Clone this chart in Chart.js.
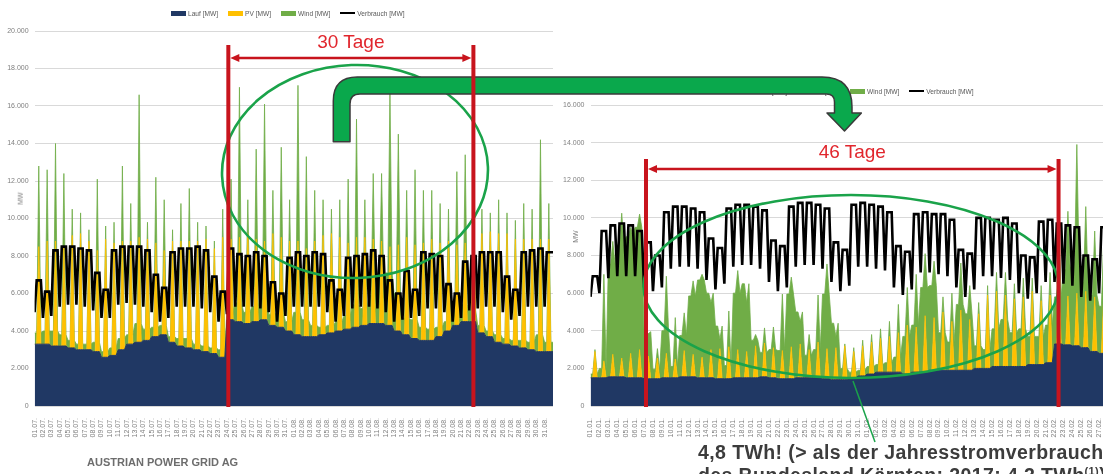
<!DOCTYPE html>
<html>
<head>
<meta charset="utf-8">
<script src="https://cdn.jsdelivr.net/npm/chart.js@4/dist/chart.umd.min.js"></script>
<style>
html, body { margin: 0; padding: 0; background: #fff; }
body { width: 1103px; height: 474px; overflow: hidden; position: relative; font-family: "Liberation Sans", Arial, sans-serif; }
canvas { position: absolute; top: 0; }
#c1 { left: 0; }
#c2 { left: 556px; }
.legend { position: absolute; display: flex; align-items: center; height: 8px; font-size: 6.6px; color: #595959; white-space: nowrap; }
.legend .item { display: flex; align-items: center; margin-right: 10px; }
.legend i { display: block; width: 15px; margin-right: 2px; }
.mw { position: absolute; font-size: 7px; color: #808080; transform: rotate(-90deg); transform-origin: center; }
#over { position: absolute; left: 0; top: 0; }
#apg { position: absolute; left: 87px; top: 456px; font: bold 11px/13px "Liberation Sans", Arial, sans-serif; color: #6d6d6d; white-space: nowrap; }
#note { position: absolute; left: 698px; top: 441px; font: bold 19.5px/23px "Liberation Sans", Arial, sans-serif; letter-spacing: 0.4px; color: #3c3c3c; white-space: nowrap; }
#note sup { font-size: 11px; line-height: 0; }
</style>
</head>
<body>
<canvas id="c1" width="567" height="446"></canvas>
<canvas id="c2" width="575" height="446"></canvas>
<div class="legend" id="lg1" style="left:171px;top:9px"></div>
<div class="legend" id="lg2" style="left:740px;top:87px"></div>
<div class="mw" style="left:14px;top:195px">MW</div>
<div class="mw" style="left:569px;top:233px">MW</div>
<svg id="over" width="1103" height="474"></svg>
<div id="apg">AUSTRIAN POWER GRID AG</div>
<div id="note">4,8 TWh! (&gt; als der Jahresstromverbrauch<br>des Bundesland Kärnten; 2017: 4,2 TWh<sup>(1)</sup>)</div>

<script>
// series names / colours
const seriesNames = ['Lauf [MW]', 'PV [MW]', 'Wind [MW]', 'Verbrauch [MW]'];
const seriesColors = ['#203864', '#ffc000', '#70ad47', '#000000'];

// ---- Sommer: 01.07. - 31.08. (one value per day) ----
const labelsSommer = ('01.07. 02.07. 03.07. 04.07. 05.07. 06.07. 07.07. 08.07. 09.07. 10.07. 11.07. 12.07. 13.07. 14.07. 15.07. 16.07. ' +
  '17.07. 18.07. 19.07. 20.07. 21.07. 22.07. 23.07. 24.07. 25.07. 26.07. 27.07. 28.07. 29.07. 30.07. 31.07. ' +
  '01.08. 02.08. 03.08. 04.08. 05.08. 06.08. 07.08. 08.08. 09.08. 10.08. 11.08. 12.08. 13.08. 14.08. 15.08. 16.08. ' +
  '17.08. 18.08. 19.08. 20.08. 21.08. 22.08. 23.08. 24.08. 25.08. 26.08. 27.08. 28.08. 29.08. 30.08. 31.08.').split(' ');
const laufSommer = [3300,3300,3200,3200,3100,3000,3000,2900,2600,2700,3000,3300,3400,3500,3700,3800,3400,3200,3100,3000,2900,2800,2600,
  4600,4500,4400,4500,4600,4300,4200,4000,3800,3700,3700,3800,3900,4000,4100,4200,4300,4400,4400,4300,4000,3800,3600,3500,3500,3700,4000,4300,4500,4500,
  3900,3700,3400,3300,3200,3100,3000,2900,2900];
const pvSommer = [5200,5500,5600,5300,6000,6200,5800,5400,6300,6000,5800,5500,5600,5400,5000,4500,5400,5600,5700,5800,6000,5600,6400,4300,4500,4800,4400,4200,4900,4800,
  4800,5000,4700,5100,5300,5300,5000,4600,4800,4700,4500,4400,4200,4600,5200,5000,5200,5400,5000,4800,4300,4200,4500,5300,5600,5800,5900,5700,5800,5900,6000,6000];
const windNachtSommer = [600,700,800,600,400,300,300,500,300,400,600,500,1000,600,500,500,300,400,500,300,300,300,400,500,1000,600,800,1200,600,800,
  500,1200,900,600,400,400,500,700,1200,900,1500,2200,2800,2000,900,1000,700,600,500,500,800,900,600,400,300,400,300,300,400,400,900,500];
const windMittagSommer = [4300,3800,5200,3900,1400,1100,600,3800,700,1100,4000,2000,7600,900,3500,2700,600,2000,2800,1000,700,400,1500,3200,8000,1800,4800,7300,2300,4800,
  2200,8300,4900,2700,1900,1300,2000,3400,6300,2000,3500,3600,8200,5900,2500,4000,2800,2600,2100,1700,3900,4700,2000,1300,1000,1800,1100,1000,1900,1600,5300,1900];
const verbrauchMinSommer = [5000,4700,4800,5300,5400,5400,5300,5100,4700,4700,5400,5500,5400,5300,5000,4500,4700,5300,5300,5300,5200,5000,4500,4900,5300,5300,5300,5200,5000,4500,
  4800,5300,5300,5300,5300,5000,4500,4800,5200,5300,5300,5200,5000,4500,4600,4700,4800,5200,5200,5000,4500,4700,5100,5200,5300,5300,5000,4600,4800,5300,5300,5300];
const verbrauchMaxSommer = [6700,6100,8300,8500,8500,8400,8300,7100,6200,8300,8500,8500,8500,8300,7000,6300,8200,8400,8400,8500,8300,6900,6100,8400,8100,8000,8200,8000,6600,6000,
  7900,8200,8000,8200,8100,6700,6200,7900,8000,8100,8300,8000,6700,6000,7200,6200,8200,8100,8000,6500,6000,7700,8000,8200,8200,8200,6900,6200,8200,8300,8400,8200];

// ---- Winter: 01.01. - 28.02. ----
const labelsWinter = ('01.01. 02.01. 03.01. 04.01. 05.01. 06.01. 07.01. 08.01. 09.01. 10.01. 11.01. 12.01. 13.01. 14.01. 15.01. 16.01. ' +
  '17.01. 18.01. 19.01. 20.01. 21.01. 22.01. 23.01. 24.01. 25.01. 26.01. 27.01. 28.01. 29.01. 30.01. 31.01. ' +
  '01.02. 02.02. 03.02. 04.02. 05.02. 06.02. 07.02. 08.02. 09.02. 10.02. 11.02. 12.02. 13.02. 14.02. 15.02. 16.02. ' +
  '17.02. 18.02. 19.02. 20.02. 21.02. 22.02. 23.02. 24.02. 25.02. 26.02. 27.02. 28.02.').split(' ');
const laufWinter = [1500,1500,1550,1550,1500,1500,1450,1450,1500,1500,1550,1550,1500,1500,1450,1450,1500,1500,1500,1550,1500,1450,1450,1500,1500,1500,1450,1400,1400,1500,
  1600,1700,1800,1800,1800,1700,1800,1800,1900,1900,1900,1900,1900,2000,2000,2100,2100,2100,2100,2200,2200,2300,3300,3250,3200,3100,2900,2800,2700];
const pvWinter = [1400,900,1200,1000,1300,1500,1200,1100,1300,1000,1400,1200,1100,1500,1600,1700,1500,1400,1700,1800,1600,1500,1700,1800,1500,1900,1600,1700,1800,1400,
  1600,1700,1800,1900,2100,2600,2400,3000,2800,3100,2600,3200,2700,2900,3900,4000,3800,3600,3700,3900,3400,3600,3200,2600,2800,3000,2900,2800,2700];
const windNachtWinter = [200,500,6000,7000,7500,8000,2500,500,2500,600,2200,4300,5200,4500,2800,700,4500,5000,2000,1300,1500,1500,4500,3500,1200,1500,4500,3000,600,300,
  300,400,400,500,800,2000,2500,4500,4500,2000,1500,3500,3000,1200,1000,2000,2500,1800,2000,1500,1500,2000,2500,4000,4500,3500,3000,2500,2000];
const windMittagWinter = [100,4600,6000,7700,6700,7200,1200,500,4100,2200,2000,3900,4400,2500,500,1900,4200,2600,600,800,1100,3000,3700,1200,800,2500,4500,600,100,200,
  300,400,500,800,1500,2000,2800,3300,3000,800,1500,2500,1800,600,500,1000,1200,800,1000,700,800,1200,3000,4500,7900,4500,3500,3000,2500];
const verbrauchMinWinter = [5800,6000,6800,6900,6900,6900,6300,6100,6300,7300,7400,7400,7300,6700,6200,6500,7400,7500,7500,7300,6600,6100,6300,7400,7500,7500,7300,6600,6100,6400,
  7400,7400,7300,7200,6300,5900,6200,7100,7100,7000,6900,6300,5800,6200,6900,6900,6800,6700,6000,5700,6000,6600,6600,6500,6400,5800,5600,6000,6500];
const verbrauchMaxWinter = [6900,9300,9600,9700,9600,9300,8700,8000,10300,10600,10600,10500,10300,8900,8400,10500,10700,10700,10600,10400,8800,8500,10600,10800,10800,10700,10500,8700,8300,10700,
  10800,10700,10600,10300,8500,8200,10200,10300,10200,10200,9900,8300,8100,10000,10000,9900,10000,9700,8000,7900,9800,9900,9700,9600,9500,8000,7800,9500,9500];

// marked periods (in days from the first tick)
const spanSommer = [23.17, 52.48];
const spanWinter = [6.22, 52.45];

Chart.defaults.font.family = '"Liberation Sans", Arial, sans-serif';

// four points per day: 0h, 6h, 12h, 18h
function buildPoints(lauf, pv, windN, windD, vbMin, vbMax) {
  const out = { lauf: [], pv: [], wind: [], vb: [] };
  const n = lauf.length;
  for (let d = 0; d < n; d++) {
    const pvDay = [0, 0, pv[d], 0];
    const windDay = [windN[d], windN[d], windD[d], windN[d]];
    const vbDay = [vbMin[d], vbMax[d], vbMax[d], vbMax[d]];
    for (let s = 0; s < 4; s++) {
      const x = d + s / 4;
      out.lauf.push({ x, y: lauf[d] });
      out.pv.push({ x, y: pvDay[s] });
      out.wind.push({ x, y: windDay[s] });
      out.vb.push({ x, y: vbDay[s] });
    }
  }
  out.lauf.push({ x: n, y: lauf[n - 1] });
  out.pv.push({ x: n, y: 0 });
  out.wind.push({ x: n, y: windN[n - 1] });
  out.vb.push({ x: n, y: vbMax[n - 1] });
  return out;
}

function fmt(v) {
  return String(v).replace(/\B(?=(\d{3})+(?!\d))/g, '.');
}

function makeChart(id, pts, labels, yMax, padTop, axisWidth) {
  return new Chart(document.getElementById(id), {
    type: 'line',
    data: {
      datasets: [
        { label: seriesNames[0], data: pts.lauf, backgroundColor: seriesColors[0], borderColor: seriesColors[0], borderWidth: 1, fill: 'origin', stack: 'erz', order: 1 },
        { label: seriesNames[1], data: pts.pv, backgroundColor: seriesColors[1], borderColor: seriesColors[1], borderWidth: 0.8, fill: '-1', stack: 'erz', order: 1 },
        { label: seriesNames[2], data: pts.wind, backgroundColor: seriesColors[2], borderColor: seriesColors[2], borderWidth: 0.8, fill: '-1', stack: 'erz', order: 1 },
        { label: seriesNames[3], data: pts.vb, borderColor: seriesColors[3], borderWidth: 2.6, fill: false, stack: 'vb', order: 0 }
      ]
    },
    options: {
      responsive: false,
      animation: false,
      devicePixelRatio: 1,
      elements: { point: { radius: 0 }, line: { tension: 0 } },
      layout: { padding: { top: padTop, right: 14, left: 0, bottom: 0 } },
      plugins: { legend: { display: false }, tooltip: { enabled: false } },
      scales: {
        x: {
          type: 'linear', min: 0, max: labels.length,
          grid: { display: false }, border: { display: false },
          afterFit: s => { s.height = 40; },
          ticks: {
            stepSize: 1, autoSkip: false, minRotation: 90, maxRotation: 90, padding: 4,
            font: { size: 7 }, color: '#808080',
            callback: v => labels[v] || ''
          }
        },
        y: {
          stacked: true, min: 0, max: yMax,
          afterFit: s => { s.width = axisWidth; },
          grid: { color: '#d9d9d9', drawTicks: false }, border: { display: false },
          ticks: { stepSize: 2000, padding: 6, font: { size: 7 }, color: '#808080', callback: v => fmt(v) }
        }
      }
    }
  });
}

const chartSommer = makeChart('c1', buildPoints(laufSommer, pvSommer, windNachtSommer, windMittagSommer, verbrauchMinSommer, verbrauchMaxSommer), labelsSommer, 20000, 31, 34.6);
const chartWinter = makeChart('c2', buildPoints(laufWinter, pvWinter, windNachtWinter, windMittagWinter, verbrauchMinWinter, verbrauchMaxWinter), labelsWinter, 16000, 105, 34.5);

// legends
['lg1', 'lg2'].forEach(id => {
  document.getElementById(id).innerHTML = seriesNames.map((n, i) =>
    '<span class="item"><i style="background:' + seriesColors[i] + ';height:' + (i === 3 ? 2.5 : 5) + 'px"></i>' + n + '</span>').join('');
});

// annotations
function bracket(x1, x2, yTop, yBottom, yArrow, text, textY) {
  const red = '#c8141d';
  let s = '';
  s += '<line x1="' + x1 + '" y1="' + yTop + '" x2="' + x1 + '" y2="' + yBottom + '" stroke="' + red + '" stroke-width="4"/>';
  s += '<line x1="' + x2 + '" y1="' + yTop + '" x2="' + x2 + '" y2="' + yBottom + '" stroke="' + red + '" stroke-width="4"/>';
  s += '<line x1="' + (x1 + 8) + '" y1="' + yArrow + '" x2="' + (x2 - 8) + '" y2="' + yArrow + '" stroke="' + red + '" stroke-width="2.5"/>';
  s += '<path d="M' + (x1 + 2) + ' ' + yArrow + ' L' + (x1 + 11) + ' ' + (yArrow - 4) + ' L' + (x1 + 11) + ' ' + (yArrow + 4) + ' Z" fill="' + red + '"/>';
  s += '<path d="M' + (x2 - 2) + ' ' + yArrow + ' L' + (x2 - 11) + ' ' + (yArrow - 4) + ' L' + (x2 - 11) + ' ' + (yArrow + 4) + ' Z" fill="' + red + '"/>';
  s += '<text x="' + ((x1 + x2) / 2) + '" y="' + textY + '" text-anchor="middle" font-family="Liberation Sans, Arial, sans-serif" font-size="19" fill="#e1262d">' + text + '</text>';
  return s;
}

const xs1 = chartSommer.scales.x, xs2 = chartWinter.scales.x;
const a1 = xs1.getPixelForValue(spanSommer[0]), b1 = xs1.getPixelForValue(spanSommer[1]);
const a2 = 556 + xs2.getPixelForValue(spanWinter[0]), b2 = 556 + xs2.getPixelForValue(spanWinter[1]);

let svg = '';
svg += '<ellipse cx="355" cy="171.5" rx="133" ry="106.5" transform="rotate(-2 355 171.5)" fill="none" stroke="#1aa34a" stroke-width="2.6"/>';
svg += '<ellipse cx="851" cy="286.5" rx="207.5" ry="91.5" fill="none" stroke="#1aa34a" stroke-width="2.6"/>';
svg += '<line x1="853" y1="381" x2="875" y2="442" stroke="#1aa34a" stroke-width="1.5"/>';
svg += '<path d="M333.3 141.7 L333.3 101 Q333.3 77 357.3 77 L822 77 Q852 77 852 107 L852 113 L861.4 113 L844.5 131 L827 113 L834.5 113 L834.5 102 Q834.5 94 826.5 94 L360 94 Q350 94 350 104 L350 141.7 Z" fill="#0aa84c" stroke="#3a3a3a" stroke-width="1.5" stroke-linejoin="round"/>';
svg += bracket(a1, b1, 45, 407, 58, '30 Tage', 47.5);
svg += bracket(a2, b2, 159, 407, 169, '46 Tage', 157.5);
document.getElementById('over').innerHTML = svg;
</script>
</body>
</html>
